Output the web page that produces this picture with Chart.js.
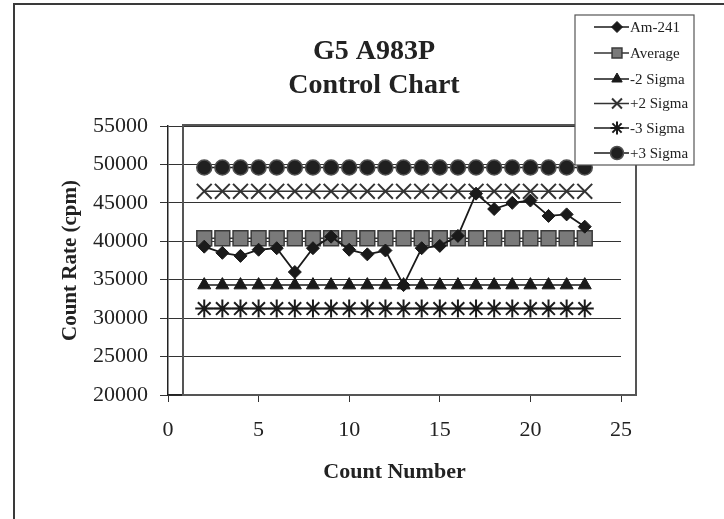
<!DOCTYPE html>
<html>
<head>
<meta charset="utf-8">
<script src="https://cdn.jsdelivr.net/npm/chart.js@4/dist/chart.umd.min.js"></script>
<style>
  html, body { margin: 0; padding: 0; background: #ffffff; }
  #wrap { position: relative; width: 724px; height: 519px; }
</style>
</head>
<body>
<div id="wrap"><canvas id="c" width="724" height="519"></canvas></div>
<script>
// ---- data ----
const countNumbers = [2,3,4,5,6,7,8,9,10,11,12,13,14,15,16,17,18,19,20,21,22,23];
const am241 = [39300,38500,38100,38900,39100,36000,39100,40600,38900,38300,38800,34300,39100,39400,40700,46200,44200,45000,45300,43300,43500,41900];
const averageLevel = 40400;
const minus2SigmaLevel = 34300;
const plus2SigmaLevel = 46500;
const minus3SigmaLevel = 31250;
const plus3SigmaLevel = 49600;
const seriesNames = ['Am-241','Average','-2 Sigma','+2 Sigma','-3 Sigma','+3 Sigma'];
const yTicks = [20000,25000,30000,35000,40000,45000,50000,55000];
const xTicks = [0,5,10,15,20,25];
const titleLines = ['G5 A983P','Control Chart'];
const xTitle = 'Count Number';
const yTitle = 'Count Rate (cpm)';

const pts = vals => countNumbers.map((x, i) => ({x: x, y: vals[i]}));
const flat = v => countNumbers.map(x => ({x: x, y: v}));

const SERIF = '"Liberation Serif", "DejaVu Serif", serif';
const TXT = '#222222';

const styles = [
  {pointStyle:'rectRot', pointRadius:6.5, pointBackgroundColor:'#1a1a1a', pointBorderColor:'#1a1a1a', borderColor:'#1a1a1a', borderWidth:1.8, pointBorderWidth:1},
  {pointStyle:'rect', pointRadius:10.5, pointBackgroundColor:'#7a7a7a', pointBorderColor:'#3a3a3a', borderColor:'#333333', borderWidth:1.5, pointBorderWidth:1.5},
  {pointStyle:'triangle', pointRadius:7.5, pointBackgroundColor:'#1a1a1a', pointBorderColor:'#1a1a1a', borderColor:'#1a1a1a', borderWidth:1.5, pointBorderWidth:1},
  {pointStyle:'crossRot', pointRadius:10.5, pointBackgroundColor:'#333333', pointBorderColor:'#333333', borderColor:'#333333', borderWidth:1.5, pointBorderWidth:2},
  {pointStyle:'star', pointRadius:9, pointBackgroundColor:'#1a1a1a', pointBorderColor:'#1a1a1a', borderColor:'#1a1a1a', borderWidth:1.5, pointBorderWidth:2},
  {pointStyle:'circle', pointRadius:7.5, pointBackgroundColor:'#202020', pointBorderColor:'#505050', borderColor:'#1a1a1a', borderWidth:1.5, pointBorderWidth:1.5}
];
const seriesData = [
  pts(am241), flat(averageLevel), flat(minus2SigmaLevel),
  flat(plus2SigmaLevel), flat(minus3SigmaLevel), flat(plus3SigmaLevel)
];

const datasets = seriesNames.map((name, i) => Object.assign({
  label: name,
  data: seriesData[i],
  fill: false,
  tension: 0,
  pointHoverRadius: styles[i].pointRadius
}, styles[i]));

// frame, outer border, title, legend
const decor = {
  id: 'decor',
  beforeDatasetsDraw(chart) {
    const ctx = chart.ctx;
    ctx.save();
    ctx.strokeStyle = '#555555';
    ctx.lineWidth = 2;
    ctx.strokeRect(183, 125, 453, 270);
    ctx.restore();
  },
  afterDraw(chart) {
    const ctx = chart.ctx;
    ctx.save();
    // outer border (top and left edges)
    ctx.strokeStyle = '#3a3a3a';
    ctx.lineWidth = 2;
    ctx.beginPath();
    ctx.moveTo(14, 519); ctx.lineTo(14, 4); ctx.lineTo(724, 4);
    ctx.stroke();
    // title
    ctx.fillStyle = TXT;
    ctx.font = 'bold 28px ' + SERIF;
    ctx.textAlign = 'center';
    ctx.textBaseline = 'middle';
    ctx.fillText(titleLines[0], 374, 52);
    ctx.fillText(titleLines[1], 374, 85.5);
    // legend
    const lx = 575, ly = 15, lw = 119, lh = 150;
    ctx.fillStyle = '#ffffff';
    ctx.fillRect(lx, ly, lw, lh);
    ctx.strokeStyle = '#555555';
    ctx.lineWidth = 1.2;
    ctx.strokeRect(lx, ly, lw, lh);
    const rows = [27, 53, 79, 103.5, 128, 153];
    const legR = [5.5, 7, 6, 7, 6.5, 6.5];
    seriesNames.forEach((name, i) => {
      const y = rows[i];
      const s = styles[i];
      ctx.strokeStyle = s.borderColor;
      ctx.lineWidth = 1.6;
      ctx.beginPath(); ctx.moveTo(594, y); ctx.lineTo(629, y); ctx.stroke();
      ctx.fillStyle = s.pointBackgroundColor;
      ctx.strokeStyle = s.pointBorderColor;
      ctx.lineWidth = s.pointBorderWidth;
      Chart.helpers.drawPoint(ctx, {pointStyle: s.pointStyle, radius: legR[i], rotation: 0, borderWidth: s.pointBorderWidth}, 617, y);
      ctx.fillStyle = TXT;
      ctx.font = '15px ' + SERIF;
      ctx.textAlign = 'left';
      ctx.textBaseline = 'middle';
      ctx.fillText(name, 630, y + 1);
    });
    ctx.restore();
  }
};

new Chart(document.getElementById('c'), {
  type: 'line',
  data: { datasets: datasets },
  options: {
    responsive: false,
    animation: false,
    layout: { padding: { left: 0, right: 103, top: 126, bottom: 0 } },
    plugins: { legend: { display: false }, title: { display: false }, tooltip: { enabled: false } },
    scales: {
      x: {
        type: 'linear', min: 0, max: 25,
        afterBuildTicks: s => { s.ticks = xTicks.map(v => ({value: v})); },
        afterFit: s => { s.height = 124; },
        grid: { drawOnChartArea: false, drawTicks: true, tickLength: 7, color: '#333333', lineWidth: 1 },
        border: { display: true, color: '#222222', width: 1.5 },
        ticks: { color: TXT, font: { family: SERIF, size: 22 }, padding: 15, maxRotation: 0 },
        title: { display: true, text: xTitle, color: TXT, font: { family: SERIF, size: 22, weight: 'bold' }, padding: { top: 0, bottom: 33 } }
      },
      y: {
        type: 'linear', min: 20000, max: 55000,
        afterBuildTicks: s => { s.ticks = yTicks.map(v => ({value: v})); },
        afterFit: s => { s.width = 168; },
        grid: { drawOnChartArea: true, drawTicks: true, tickLength: 8, color: '#333333', lineWidth: 1 },
        border: { display: true, color: '#222222', width: 1.5 },
        ticks: { color: TXT, font: { family: SERIF, size: 22 }, padding: 12, callback: v => String(v) },
        title: { display: true, text: yTitle, color: TXT, font: { family: SERIF, size: 21, weight: 'bold' }, padding: { top: 58, bottom: 0 } }
      }
    }
  },
  plugins: [decor]
});
</script>
</body>
</html>
